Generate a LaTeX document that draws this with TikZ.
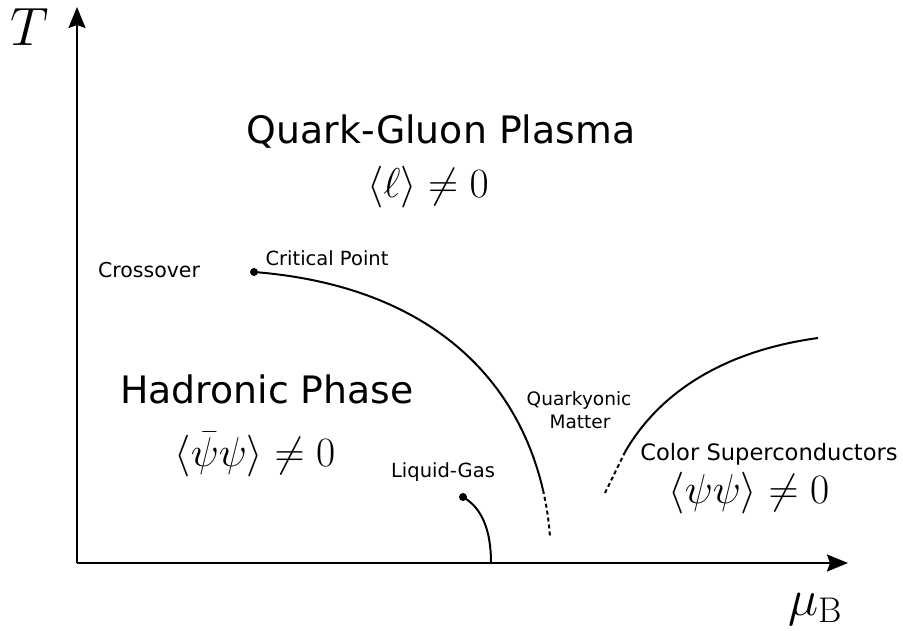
\RequirePackage{fix-cm}
\documentclass[tikz,border=0pt]{standalone}
\usepackage{fontspec}
\newfontfamily\dv{DejaVu Sans}
\usetikzlibrary{arrows.meta}
\begin{document}
\begin{tikzpicture}[x=1pt,y=-1pt,
  axis/.style={line width=2.2pt, -{Stealth[length=21pt,width=17pt,inset=3pt]}},
  curve/.style={line width=2pt},
  dashcurve/.style={line width=2pt, dash pattern=on 4pt off 3pt},
  dotnode/.style={circle, fill=black, inner sep=0pt, minimum size=8pt},
  big/.style={font=\dv\fontsize{37.8}{44}\selectfont, anchor=base, inner sep=0pt},
  small/.style={font=\dv\fontsize{19.5}{23}\selectfont, anchor=base, inner sep=0pt},
  mathlbl/.style={anchor=base, inner sep=0pt, font=\fontsize{41.7}{50}\selectfont},
]
\useasboundingbox (0,0) rectangle (903,630);
% axes
\coordinate (origin) at (77,563);
\coordinate (ytop) at (77,7);
\coordinate (xend) at (848,563);
\draw[axis] (origin) -- (ytop);
\draw[axis] (origin) -- (xend);
\node[mathlbl, font=\fontsize{54}{60}\selectfont] (tlabel) at (30,45) {$T$};
\node[mathlbl, font=\fontsize{51}{60}\selectfont] (mulabel) at (815,615) {$\mu_{\mathrm{B}}$};
% critical line
\node[dotnode] (cp) at (254,272) {};
\coordinate (cpend) at (543,490);
\coordinate (cpdash) at (550,537);
\draw[curve] (cp.center) .. controls (420,285) and (515,370) .. (cpend);
\draw[dashcurve] (cpend) .. controls (547,508) and (549,522) .. (cpdash);
% color superconductor line
\coordinate (csdash) at (605,493);
\coordinate (csstart) at (625,452);
\coordinate (csend) at (818,338);
\draw[dashcurve] (csdash) -- (csstart);
\draw[curve] (csstart) .. controls (662,388) and (730,350) .. (csend);
% liquid-gas line
\node[dotnode] (lg) at (463,497) {};
\coordinate (lgend) at (491,563);
\draw[curve] (lg.center) .. controls (482,508) and (491,530) .. (lgend);
% labels
\node[big] (qgp) at (441,143) {Quark-Gluon Plasma};
\node[mathlbl] (qgpm) at (428,197) {$\langle \ell\rangle \neq 0$};
\node[big] (had) at (267,403) {Hadronic Phase};
\node[mathlbl] (hadm) at (255,466) {$\langle \bar{\psi}\psi\rangle \neq 0$};
\node[small, font=\dv\fontsize{20.5}{24}\selectfont] (cross) at (149,277) {Crossover};
\node[small] (cplabel) at (327,265) {Critical Point};
\node[small] (lglabel) at (443,477) {Liquid-Gas};
\node[small, font=\dv\fontsize{18.5}{23}\selectfont] (qy1) at (579,405) {Quarkyonic};
\node[small, font=\dv\fontsize{18.5}{23}\selectfont] (qy2) at (580,428) {Matter};
\node[small, font=\dv\fontsize{22.6}{27}\selectfont] (cs) at (769,460) {Color Superconductors};
\node[mathlbl] (csm) at (749,503) {$\langle \psi\psi\rangle \neq 0$};
\end{tikzpicture}
\end{document}
